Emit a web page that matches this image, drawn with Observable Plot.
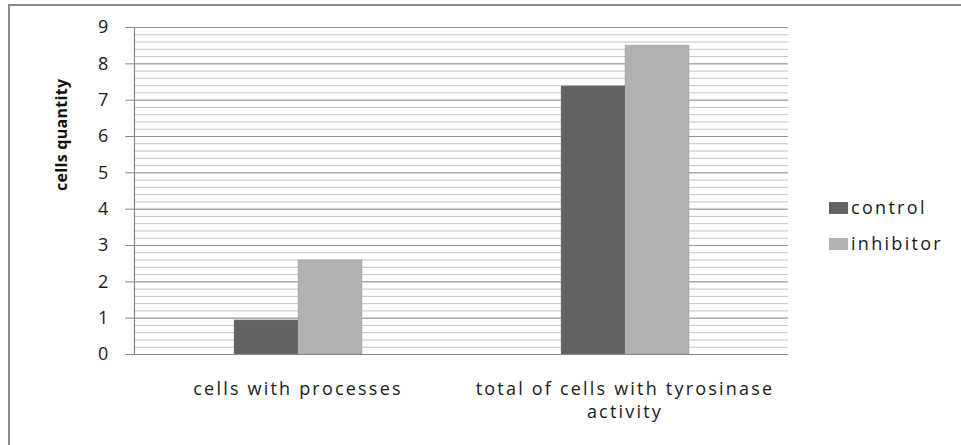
<!DOCTYPE html>
<html>
<head>
<meta charset="utf-8">
<script src="https://cdn.jsdelivr.net/npm/d3@7"></script>
<script src="https://cdn.jsdelivr.net/npm/@observablehq/plot@0.6"></script>
<style>
  html, body { margin: 0; padding: 0; background: #fff; overflow: hidden; }
  #wrap { position: relative; width: 961px; height: 445px; }
  #border { position: absolute; left: 8px; top: 4px; width: 1000px; height: 600px; border: 2px solid #8a8a8a; box-sizing: border-box; pointer-events: none; }
  #chart svg text { letter-spacing: 2.2px; }
  #chart svg text.ytitle { letter-spacing: 0.3px; }
  #legend { position: absolute; left: 829px; top: 189px; font-family: "Open Sans", sans-serif; font-size: 18px; letter-spacing: 2.3px; color: #1a1a1a; }
  .item { display: flex; align-items: center; height: 36px; }
  .sw { width: 19px; height: 12px; margin-right: 3px; margin-top: 2px; }
</style>
</head>
<body>
<div id="wrap">
  <div id="chart"></div>
  <div id="legend"></div>
  <div id="border"></div>
</div>
<script>
const categories = ["cells with processes", "total of cells with tyrosinase activity"];
const categoryLabels = ["cells with processes", "total of cells with tyrosinase\nactivity"];
const series = ["control", "inhibitor"];
const controlValues = [0.94, 7.38];
const inhibitorValues = [2.59, 8.5];
const yTicks = [0, 1, 2, 3, 4, 5, 6, 7, 8, 9];
const minorStep = 0.2;
const colors = ["#636363", "#b2b2b2"];
const yTitle = "cells quantity";

const data = [];
categories.forEach((c, i) => {
  data.push({category: c, series: series[0], value: controlValues[i]});
  data.push({category: c, series: series[1], value: inhibitorValues[i]});
});
const minorTicks = d3.range(0, yTicks[yTicks.length - 1] + 1e-9, minorStep);

const chart = Plot.plot({
  width: 961,
  height: 445,
  marginLeft: 133,
  marginRight: 173,
  marginTop: 27,
  marginBottom: 91,
  style: {fontFamily: "Open Sans, sans-serif", color: "#1a1a1a", background: "transparent"},
  fx: {domain: categories, padding: 0, label: null, axis: null},
  x: {domain: series, paddingInner: 0, paddingOuter: 1.523, axis: null},
  y: {domain: [0, 9], axis: null},
  color: {domain: series, range: colors},
  marks: [
    Plot.ruleY(minorTicks, {stroke: "#c4c4c4", strokeWidth: 1}),
    Plot.ruleY(yTicks, {stroke: "#9a9a9a", strokeWidth: 1}),
    Plot.barY(data, {fx: "category", x: "series", y: "value", fill: "series", stroke: "#8a8a8a", strokeOpacity: 0.35, strokeWidth: 1}),
    Plot.ruleY([0], {stroke: "#8a8a8a", strokeWidth: 1.2}),
    Plot.frame({anchor: "left", facet: "super", stroke: "#8a8a8a", strokeWidth: 1.2}),
    Plot.axisY({ticks: yTicks, tickSize: 9, tickPadding: 15, fontSize: 18, stroke: "#8a8a8a", fill: "#1a1a1a", label: null}),
    Plot.axisFx({anchor: "bottom", tickSize: 0, tickPadding: 23, fontSize: 18, lineHeight: 1.33, fill: "#1a1a1a", label: null,
      tickFormat: d => categoryLabels[categories.indexOf(d)]}),
    Plot.text([yTitle], {frameAnchor: "left", dx: -73, rotate: -90, fontSize: 16, fontWeight: "bold", fill: "#111", facet: "super"})
  ]
});
document.getElementById("chart").appendChild(chart);
d3.select(chart).selectAll("text").filter(function() { return this.textContent === yTitle; }).classed("ytitle", true);

const legend = d3.select("#legend");
series.forEach((s, i) => {
  const it = legend.append("div").attr("class", "item");
  it.append("div").attr("class", "sw").style("background", colors[i]);
  it.append("span").text(s);
});
</script>
</body>
</html>
